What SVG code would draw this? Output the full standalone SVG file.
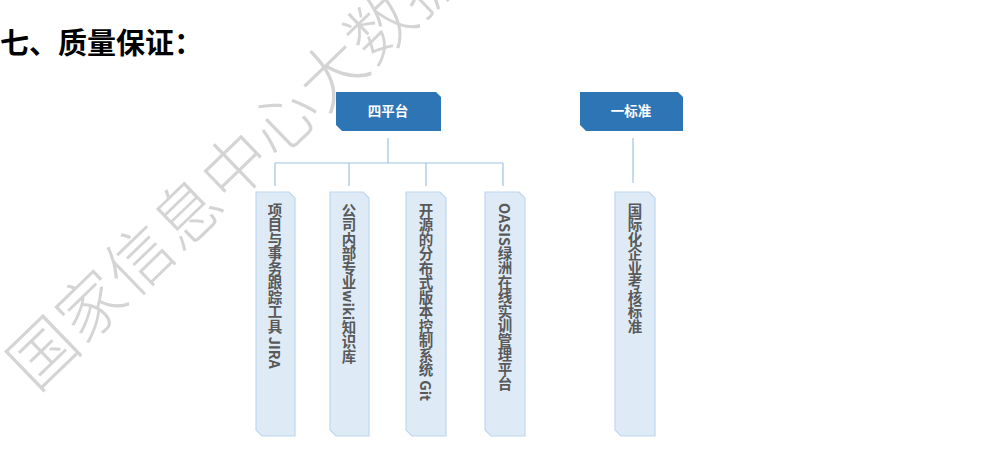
<svg xmlns="http://www.w3.org/2000/svg" width="990" height="465" viewBox="0 0 990 465">
<defs>
<style>
.title{font-family:"Liberation Serif","Noto Sans CJK SC",serif;font-size:29px;font-weight:bold;fill:#000}
.wm{font-family:"Noto Sans CJK SC",sans-serif;font-size:66px;font-weight:300;fill:#d4d4d4;letter-spacing:1px}
.hdr{fill:#2E75B6}
.hdrt{font-family:"Noto Sans CJK SC",sans-serif;font-size:13.5px;font-weight:bold;fill:#fff;text-anchor:middle}
.card{fill:#DEEBF7;stroke:#BDD7EE;stroke-width:1.2}
.ct{font-family:"Noto Sans CJK SC",sans-serif;font-size:14.5px;font-weight:bold;fill:#595959;writing-mode:vertical-rl}
.conn{stroke:#9DC3E6;stroke-width:1.2;fill:none}
</style>
</defs>
<rect width="990" height="465" fill="#fff"/>
<text class="wm" transform="translate(42,352) rotate(-44)" x="-33" y="25">国家信息中心大数据</text>
<text class="title" x="0" y="54">七、质量保证：</text>
<g id="connectors">
<path class="conn" d="M388,138 V163 M275,163 H503 M275,163 V186 M349,163 V186 M426,163 V186 M503,163 V186"/>
<path class="conn" d="M633,138 V183"/>
</g>
<g id="n-siping">
<path class="hdr" d="M336,92 H436 L441,97 V131 H342 L336,125 Z"/>
<text class="hdrt" x="388" y="116">四平台</text>
</g>
<g id="n-yibiao">
<path class="hdr" d="M580,92 H678 L683,97 V131 H586 L580,125 Z"/>
<text class="hdrt" x="631" y="116">一标准</text>
</g>
<g id="n-jira">
<path class="card" d="M256,192 H289 L295,198 V436 H262 L256,430 Z"/>
<text class="ct" x="275" y="203">项目与事务跟踪工具 JIRA</text>
</g>
<g id="n-wiki">
<path class="card" d="M330,192 H363 L369,198 V436 H336 L330,430 Z"/>
<text class="ct" x="349" y="203">公司内部专业wiki知识库</text>
</g>
<g id="n-git">
<path class="card" d="M406,192 H440 L446,198 V436 H412 L406,430 Z"/>
<text class="ct" x="426" y="203">开源的分布式版本控制系统 Git</text>
</g>
<g id="n-oasis">
<path class="card" d="M485,192 H519 L525,198 V436 H491 L485,430 Z"/>
<text class="ct" x="505" y="203">OASIS绿洲在线实训管理平台</text>
</g>
<g id="n-std">
<path class="card" d="M615,192 H649 L655,198 V436 H621 L615,430 Z"/>
<text class="ct" x="635" y="203">国际化企业考核标准</text>
</g>
</svg>
